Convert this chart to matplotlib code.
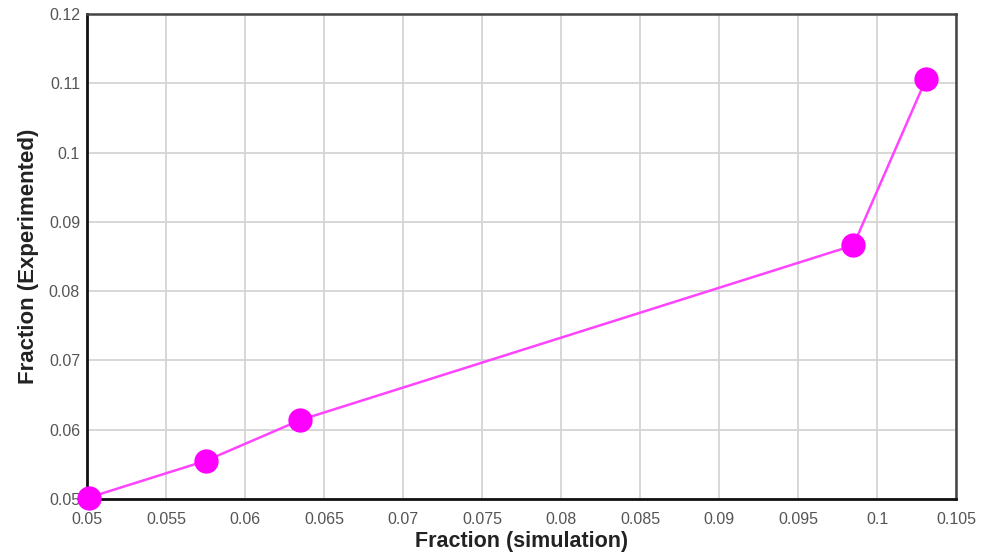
import matplotlib.pyplot as plt

plt.rcParams['font.family'] = ['Liberation Sans', 'DejaVu Sans']

# Data
sim = [0.0501, 0.0575, 0.0635, 0.0985, 0.1031]
exp = [0.0502, 0.0555, 0.0614, 0.0866, 0.1106]

xticks = [0.05, 0.055, 0.06, 0.065, 0.07, 0.075, 0.08, 0.085, 0.09, 0.095, 0.1, 0.105]
xtick_labels = ['0.05', '0.055', '0.06', '0.065', '0.07', '0.075', '0.08', '0.085', '0.09', '0.095', '0.1', '0.105']
yticks = [0.05, 0.06, 0.07, 0.08, 0.09, 0.1, 0.11, 0.12]
ytick_labels = ['0.05', '0.06', '0.07', '0.08', '0.09', '0.1', '0.11', '0.12']

fig = plt.figure(figsize=(9.82, 5.56), dpi=100)
ax = fig.add_axes([0.0886, 0.1025, 0.885, 0.8725])

ax.plot(sim, exp, color='#ff44ff', linewidth=1.8, zorder=3)
ax.plot(sim, exp, linestyle='none', marker='o', markersize=17.5,
        color='#ff00ff', markeredgewidth=0, zorder=4, clip_on=False)

ax.set_xlim(0.05, 0.105)
ax.set_ylim(0.05, 0.12)
ax.set_xticks(xticks)
ax.set_xticklabels(xtick_labels)
ax.set_yticks(yticks)
ax.set_yticklabels(ytick_labels)
ax.tick_params(length=0, labelsize=11.5, labelcolor='#555555')
ax.tick_params(axis='x', pad=9)
ax.tick_params(axis='y', pad=5)

ax.grid(True, color='#d4d4d4', linewidth=1.3)
ax.set_axisbelow(True)
for side in ['top', 'right']:
    ax.spines[side].set_color('#444444')
    ax.spines[side].set_linewidth(1.8)
for side in ['left', 'bottom']:
    ax.spines[side].set_color('#111111')
    ax.spines[side].set_linewidth(2.0)

ax.set_xlabel('Fraction (simulation)', fontsize=15.5, fontweight='bold', color='#222222', labelpad=3)
ax.set_ylabel('Fraction (Experimented)', fontsize=16, fontweight='bold', color='#222222', labelpad=7)

fig.savefig('out.png', dpi=100)
